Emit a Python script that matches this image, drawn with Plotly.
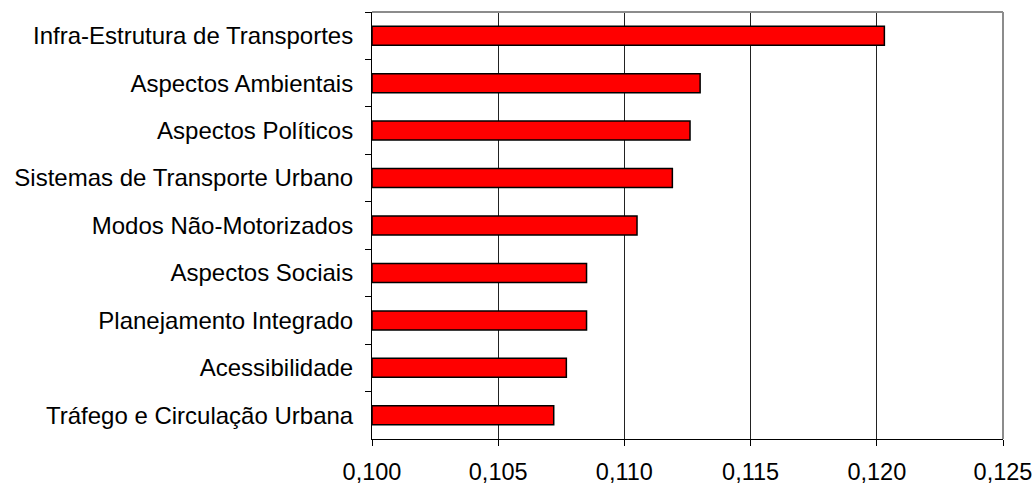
import plotly.graph_objects as go

categories = [
    "Infra-Estrutura de Transportes",
    "Aspectos Ambientais",
    "Aspectos Políticos",
    "Sistemas de Transporte Urbano",
    "Modos Não-Motorizados",
    "Aspectos Sociais",
    "Planejamento Integrado",
    "Acessibilidade",
    "Tráfego e Circulação Urbana",
]
values = [0.1203, 0.1130, 0.1126, 0.1119, 0.1105, 0.1085, 0.1085, 0.1077, 0.1072]
x_ticks = [0.100, 0.105, 0.110, 0.115, 0.120, 0.125]
base_value = 0.1

fig = go.Figure()
fig.add_trace(go.Bar(
    y=categories,
    x=[v - base_value for v in values],
    base=base_value,
    orientation="h",
    marker=dict(color="#FF0000", line=dict(color="#000000", width=1.5)),
    width=0.40,
))

fig.update_layout(
    width=1036, height=486,
    margin=dict(l=372, r=33, t=12, b=47),
    paper_bgcolor="white", plot_bgcolor="white",
    font=dict(family="Liberation Sans, Arial, sans-serif", size=24, color="black"),
    separators=",.",
    showlegend=False,
)
fig.update_xaxes(
    range=[0.1, 0.125], tickvals=x_ticks, tickformat=".3f",
    showgrid=True, gridcolor="#222222", gridwidth=1,
    showline=True, linecolor="black", linewidth=1,
    ticks="outside", ticklen=6, tickcolor="black",
    ticklabelstandoff=6, zeroline=False, automargin=False,
    tickfont=dict(size=23.5),
)
fig.update_yaxes(
    categoryorder="array", categoryarray=categories, autorange="reversed",
    showline=True, linecolor="black", linewidth=1,
    ticks="outside", ticklen=6, tickcolor="black", tickson="boundaries",
    ticklabelstandoff=13, showgrid=False, automargin=False,
)
# gray top and right frame
fig.add_shape(type="line", xref="paper", yref="paper", x0=0, x1=1, y0=1, y1=1,
              line=dict(color="#8c8c8c", width=2), layer="above")
fig.add_shape(type="line", xref="paper", yref="paper", x0=1, x1=1, y0=0, y1=1,
              line=dict(color="#8c8c8c", width=2), layer="above")

fig.write_html(
    "out.html",
    config={"displayModeBar": False},
    post_script="document.body.style.margin='0';document.body.style.overflow='hidden';",
)
